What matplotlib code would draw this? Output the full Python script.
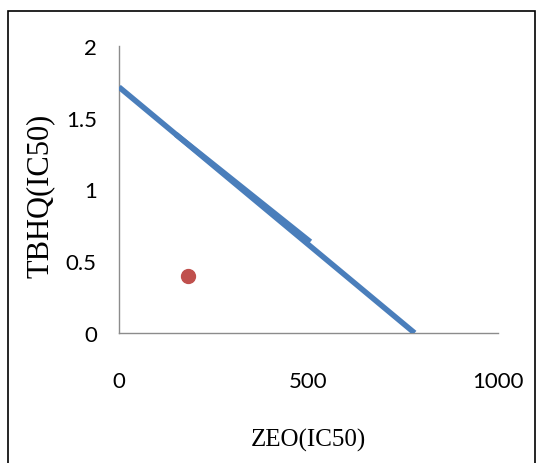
import matplotlib.pyplot as plt
from matplotlib.patches import Rectangle

# isobologram data
line_x = [0, 780]
line_y = [1.714, 0]
seg_x = [150, 505]
seg_y = [1.384, 0.635]
point_x = [182]
point_y = [0.40]
x_ticks = [0, 500, 1000]
y_ticks = [0, 0.5, 1, 1.5, 2]
y_labels = ["0", "0.5", "1", "1.5", "2"]

plt.rcParams['font.family'] = ['Liberation Serif', 'DejaVu Serif']
tick_font = ['Lato', 'DejaVu Sans']

fig = plt.figure(figsize=(5.42, 4.64), dpi=100)
ax = fig.add_axes([119 / 542, 1 - 334 / 464, 379 / 542, 287 / 464])

ax.plot(line_x, line_y, color="#4A7EBB", lw=4.0, solid_capstyle="butt", zorder=3)
ax.plot(seg_x, seg_y, color="#4A7EBB", lw=4.0, solid_capstyle="butt", zorder=3)
ax.plot(point_x, point_y, "o", color="#C0504D", markersize=10, zorder=4)

ax.set_xlim(0, 1000)
ax.set_ylim(0, 2)
ax.set_xticks(x_ticks)
ax.set_xticklabels([str(v) for v in x_ticks], family=tick_font, fontsize=16)
ax.set_yticks(y_ticks)
ax.set_yticklabels(y_labels, family=tick_font, fontsize=16)
ax.tick_params(axis="both", length=0)
ax.tick_params(axis="x", pad=27)
ax.tick_params(axis="y", pad=16)

for s in ["top", "right"]:
    ax.spines[s].set_visible(False)
for s in ["left", "bottom"]:
    ax.spines[s].set_color("#8C8C8C")
    ax.spines[s].set_linewidth(1.0)

ax.set_xlabel("ZEO(IC50)", fontsize=18, labelpad=27)
ax.set_ylabel("TBHQ(IC50)", fontsize=22, labelpad=8, y=0.48)

# outer frame
fig.patches.append(Rectangle((8 / 542, -0.05), (535 - 8) / 542, 1.05 - 12 / 464,
                             transform=fig.transFigure, fill=False,
                             edgecolor="black", lw=1.2))

fig.savefig("out.png", dpi=100)
